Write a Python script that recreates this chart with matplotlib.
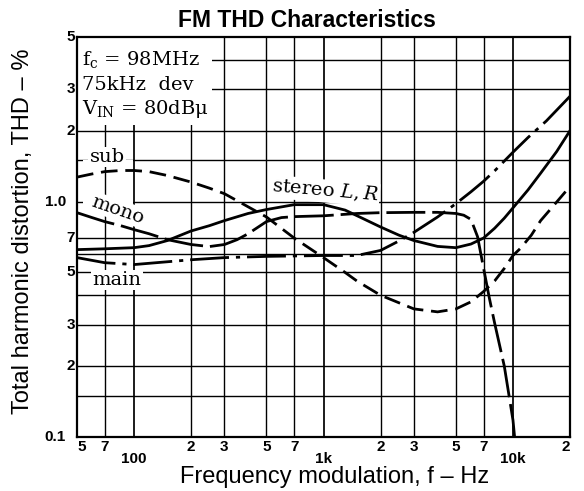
import matplotlib
matplotlib.use("Agg")
import matplotlib.pyplot as plt
from matplotlib import font_manager
from matplotlib.patches import Rectangle
from matplotlib.ticker import NullLocator

# data (frequency in Hz, THD in %)
sub_f = [50, 60, 70, 85, 100, 120, 150, 200, 250, 300, 400, 500, 700, 1000, 1300, 1500,
         2000, 3000, 4000, 5000, 6000, 7000, 8000, 9000, 10000, 11000, 12500, 14000,
         16000, 18000, 20000]
sub_v = [1.27, 1.31, 1.34, 1.355, 1.355, 1.34, 1.29, 1.21, 1.14, 1.08, 0.95, 0.86, 0.70,
         0.578, 0.50, 0.46, 0.40, 0.35, 0.34, 0.35, 0.375, 0.415, 0.46, 0.52, 0.59, 0.635,
         0.72, 0.83, 0.94, 1.05, 1.16]

solid_f = [50, 70, 100, 120, 150, 200, 250, 300, 400, 500, 700, 1000, 1300, 1600, 2000,
           2500, 3000, 4000, 5000, 6000, 7000, 8000, 9000, 10000, 12000, 14000, 17000, 20000]
solid_v = [0.625, 0.63, 0.637, 0.65, 0.683, 0.75, 0.79, 0.83, 0.89, 0.925, 0.97, 0.97,
           0.92, 0.85, 0.78, 0.72, 0.683, 0.645, 0.637, 0.66, 0.70, 0.77, 0.85, 0.94, 1.12,
           1.32, 1.63, 2.0]

long_f = [50, 60, 70, 85, 100, 120, 150, 200, 250, 300, 350, 400, 500, 600, 700, 1000,
          1500, 2000, 3000, 4000, 5000, 5500, 6000, 6500, 7000, 7500, 8000, 9000, 10000, 10200]
long_v = [0.897, 0.855, 0.822, 0.79, 0.76, 0.73, 0.689, 0.657, 0.644, 0.657, 0.689, 0.73,
          0.822, 0.855, 0.863, 0.87, 0.89, 0.897, 0.9, 0.9, 0.89, 0.875, 0.84, 0.71, 0.52,
          0.39, 0.305, 0.20, 0.118, 0.1]

main_f = [50, 70, 100, 150, 200, 300, 500, 1000, 1500, 2000, 2500, 3000, 4000, 5000, 6000,
          7000, 8000, 10000, 12000, 15000, 20000]
main_v = [0.578, 0.55, 0.54, 0.555, 0.566, 0.578, 0.585, 0.59, 0.59, 0.62, 0.68, 0.74, 0.86,
          0.98, 1.10, 1.22, 1.35, 1.62, 1.87, 2.2, 2.8]

x_ticks = [50, 70, 100, 200, 300, 500, 700, 1000, 2000, 3000, 5000, 7000, 10000, 20000]
x_labels = ["5", "7", "100", "2", "3", "5", "7", "1k", "2", "3", "5", "7", "10k", "2"]
y_ticks = [5, 3, 2, 1.0, 0.7, 0.5, 0.3, 0.2, 0.1]
y_labels = ["5", "3", "2", "1.0", "7", "5", "3", "2", "0.1"]
x_grid = [70, 100, 200, 300, 500, 700, 1000, 2000, 3000, 5000, 7000, 10000]
y_grid = [0.15, 0.2, 0.3, 0.4, 0.5, 0.6, 0.7, 1.0, 1.5, 2, 3, 4]

names = {f.name for f in font_manager.fontManager.ttflist}
tick_font = "Liberation Sans Narrow" if "Liberation Sans Narrow" in names else "Liberation Sans"
tick_size = 12 if tick_font == "Liberation Sans Narrow" else 11

plt.rcParams["font.family"] = "Liberation Sans"
plt.rcParams["mathtext.fontset"] = "dejavuserif"

W, H = 584, 491
L, R, T, B = 77, 570, 37, 437   # axes box in pixels

fig = plt.figure(figsize=(W / 100, H / 100), dpi=100)
ax = fig.add_axes([L / W, 1 - B / H, (R - L) / W, (B - T) / H])
ax.set_xscale("log")
ax.set_yscale("log")
ax.set_xlim(50, 20000)
ax.set_ylim(0.1, 5)
for a in (ax.xaxis, ax.yaxis):
    a.set_major_locator(NullLocator())
    a.set_minor_locator(NullLocator())
for s in ax.spines.values():
    s.set_linewidth(1.6)


def ax_pos(px, py):
    return (px - L) / (R - L), (B - py) / (B - T)


# grid
for g in y_grid:
    ax.axhline(g, color="black", lw=1.0, zorder=0.6)
for g in x_grid:
    lw = 1.25 if g in (100, 1000, 10000) else 1.0
    ax.axvline(g, color="black", lw=lw, zorder=0.8)

# white areas (info box, label gap)
x0, y0 = ax_pos(L, 125)
x1, y1 = ax_pos(212, T)
ax.add_patch(Rectangle((x0, y0), x1 - x0, y1 - y0, transform=ax.transAxes,
                       facecolor="white", edgecolor="none", zorder=1.0))
x0, y0 = ax_pos(83, 206)
x1, y1 = ax_pos(133, 160)
ax.add_patch(Rectangle((x0, y0), x1 - x0, y1 - y0, transform=ax.transAxes,
                       facecolor="white", edgecolor="none", zorder=0.7))

# curves
lw = 2.0
ax.plot(sub_f, sub_v, color="black", lw=lw, dashes=(6, 2.8), zorder=3)
ax.plot(solid_f, solid_v, color="black", lw=lw, zorder=3)
ax.plot(long_f, long_v, color="black", lw=lw, dashes=(14, 2.5), zorder=3)
ax.plot(main_f, main_v, color="black", lw=lw, dashes=(14, 2.5, 1.5, 2.5), zorder=3)

# info text
serif = "DejaVu Serif"
info = [r"f$_\mathrm{c}$ = 98MHz", "75kHz  dev", "V$_\\mathrm{IN}$ = 80dB\u03bc"]
for txt, py in zip(info, [65, 90, 114]):
    x, y = ax_pos(82, py)
    ax.text(x, y, txt, transform=ax.transAxes, family=serif,
            fontsize=14, ha="left", va="baseline", zorder=2)

# curve labels
box = dict(facecolor="white", edgecolor="none", pad=1.0)
labels = [("sub", 107, 157, 0), ("mono", 118, 210, -19), ("main", 117, 280, 0),
          (r"stereo $L,R$", 325, 191, -5)]
for txt, px, py, rot in labels:
    x, y = ax_pos(px, py)
    ax.text(x, y, txt, transform=ax.transAxes, family=serif, fontsize=14,
            ha="center", va="center", rotation=rot, bbox=box, zorder=2)

# tick labels
for f, lab in zip(x_ticks, x_labels):
    low = lab in ("100", "1k", "10k")
    ha = "left" if f == 50 else ("right" if f == 20000 else "center")
    ax.text(f, -(15 if low else 3) / (B - T), lab, transform=ax.get_xaxis_transform(),
            ha=ha, va="top", family=tick_font, weight="bold", fontsize=tick_size)
for v, lab in zip(y_ticks, y_labels):
    xr = -(2 if len(lab) == 1 else 11) / (R - L)
    ax.text(xr, v, lab, transform=ax.get_yaxis_transform(), ha="right", va="center",
            family=tick_font, weight="bold", fontsize=tick_size)

fig.text(307 / W, 1 - 27 / H, "FM THD Characteristics", ha="center", va="baseline",
         fontsize=16.5, weight="bold")
fig.text(335 / W, 1 - 483 / H, "Frequency modulation, f \u2013 Hz", ha="center",
         va="baseline", fontsize=17)
fig.text(23 / W, 1 - 231 / H, "Total harmonic distortion, THD \u2013 %", ha="center",
         va="center", rotation=90, fontsize=17)

fig.savefig("out.png", dpi=100)
